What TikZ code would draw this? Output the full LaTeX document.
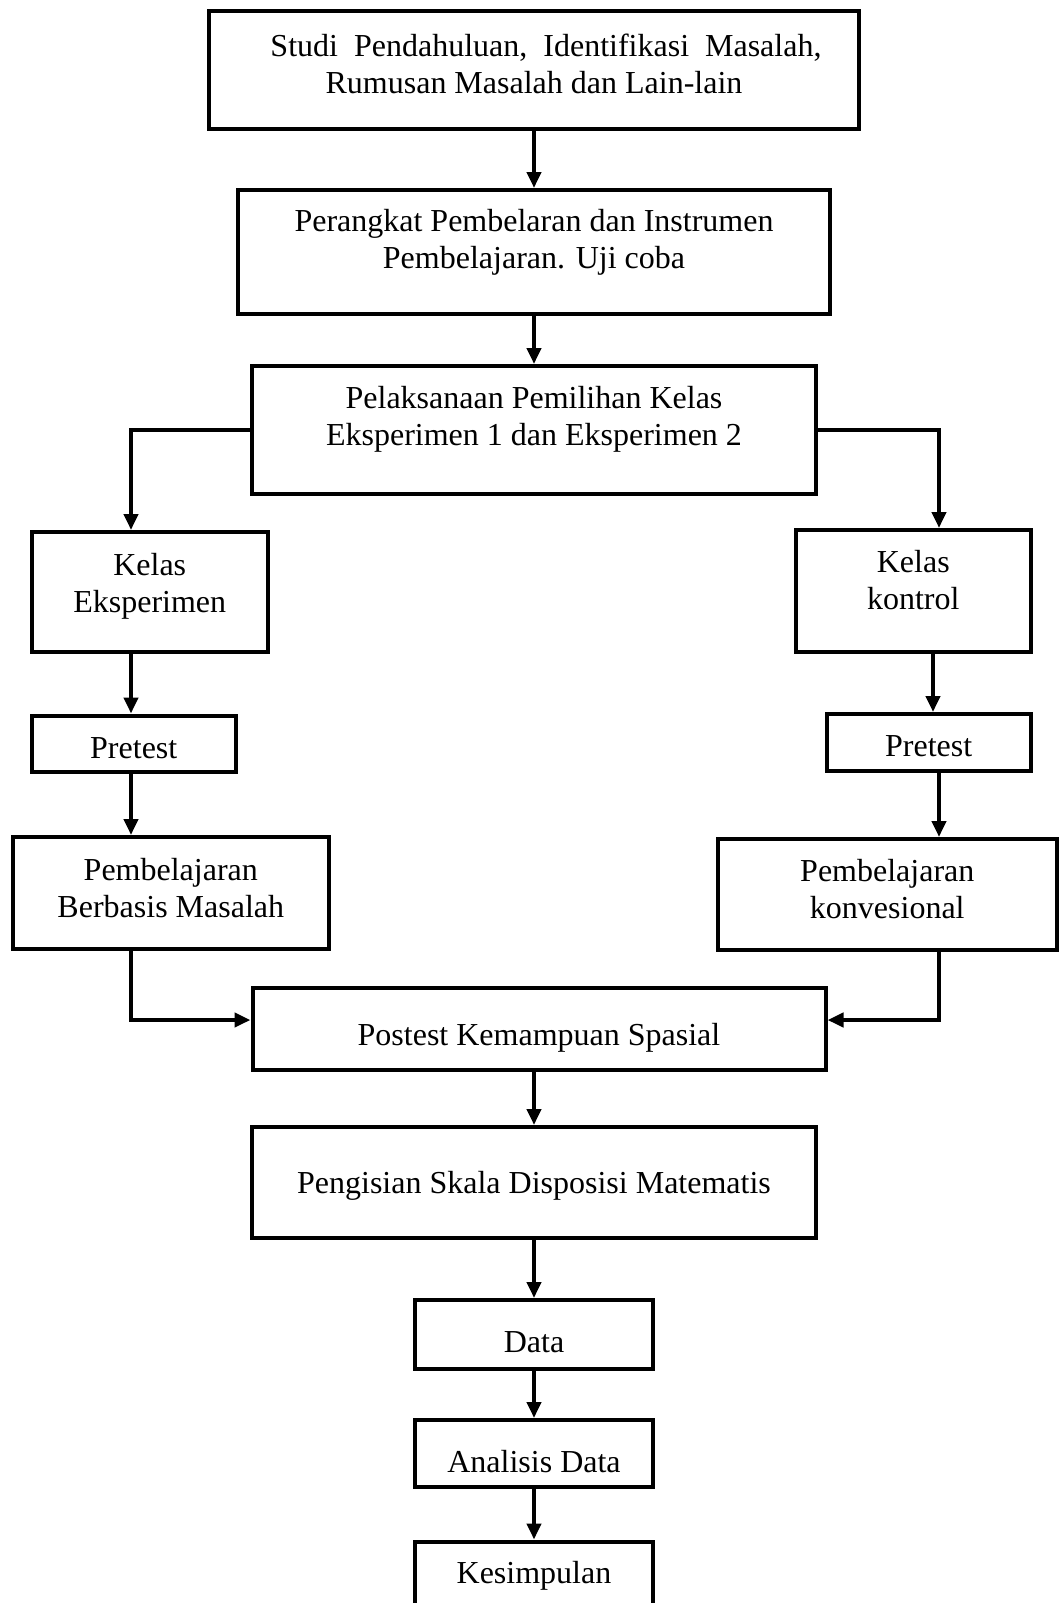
\documentclass[tikz,border=0pt]{standalone}
\usepackage{fontspec}
\setmainfont{Liberation Serif}
\usepackage{tikz}
\usetikzlibrary{arrows.meta}
\usetikzlibrary{positioning}

\tikzset{
  box/.style={draw, line width=2pt, inner sep=0pt, align=center,
    font=\fontsize{16}{18.5}\selectfont},
  arr/.style={line width=2.1pt, -{Triangle[length=8pt,width=7pt]}},
  tup/.style={text depth=#1},
  tdown/.style={text height=#1}
}

\begin{document}
\begin{tikzpicture}[x=0.5pt, y=-0.5pt]
    \useasboundingbox (0, 0) rectangle (1059, 1603);

    \node [box, tup=6pt, minimum width=325pt, minimum height=58.75pt] (studi) at (534, 69.75) {\hspace*{12pt}Studi\hspace{8pt}Pendahuluan,\hspace{8pt}Identifikasi\hspace{8pt}Masalah,\\Rumusan Masalah dan Lain-lain};
    \node [box, tup=13.5pt, minimum width=296pt, minimum height=62pt] (perangkat) at (534, 252) {Perangkat Pembelaran dan Instrumen\\Pembelajaran. Uji coba};
    \node [box, tup=14.5pt, minimum width=282pt, minimum height=64pt] (pelaksanaan) at (534, 430) {Pelaksanaan Pemilihan Kelas\\Eksperimen 1 dan Eksperimen 2};

    \node [box, tup=8.5pt, minimum width=118.25pt, minimum height=59.75pt] (kelasE) at (149.75, 591.75) {Kelas\\Eksperimen};
    \node [box, tup=11pt, minimum width=117.65pt, minimum height=60.75pt] (kelasK) at (913.3, 590.75) {Kelas\\kontrol};
    \node [box, tdown=14.6pt, minimum width=102.25pt, minimum height=28.25pt] (preE) at (133.75, 743.75) {Pretest};
    \node [box, tdown=14.6pt, minimum width=102pt, minimum height=28.5pt] (preK) at (928.7, 742.5) {Pretest};
    \node [box, tup=5pt, minimum width=158.15pt, minimum height=56pt] (pbm) at (170.8, 893) {Pembelajaran\\Berbasis Masalah};
    \node [box, tup=6pt, minimum width=169.65pt, minimum height=55.5pt] (konv) at (887.3, 894.5) {Pembelajaran\\konvesional};

    \node [box, tdown=20pt, minimum width=286.5pt, minimum height=41.15pt] (postest) at (539, 1028.85) {Postest Kemampuan Spasial};
    \node [box, tdown=14pt, minimum width=282pt, minimum height=55.5pt] (skala) at (534, 1182.5) {Pengisian Skala Disposisi Matematis};
    \node [box, tdown=17.8pt, minimum width=119pt, minimum height=34.5pt] (data) at (534, 1334.5) {Data};
    \node [box, tdown=19pt, minimum width=118.65pt, minimum height=33.5pt] (analisis) at (534, 1453.5) {Analisis Data};
    \node [box, minimum width=118.65pt, minimum height=34.25pt] (kesimpulan) at (534, 1575.75) {Kesimpulan};

    % columns of the side branches
    \coordinate (lx) at (131, 0);
    \coordinate (rx) at (939, 0);
    \coordinate (rk) at (933, 0);
    \coordinate (jy) at (0, 1020);

    \draw [arr] (studi) -- (perangkat);
    \draw [arr] (perangkat) -- (pelaksanaan);
    \draw [arr] (pelaksanaan.west) -| (lx |- kelasE.north);
    \draw [arr] (pelaksanaan.east) -| (rx |- kelasK.north);

    \draw [arr] (lx |- kelasE.south) -- (lx |- preE.north);
    \draw [arr] (lx |- preE.south) -- (lx |- pbm.north);
    \draw [arr] (rk |- kelasK.south) -- (rk |- preK.north);
    \draw [arr] (rx |- preK.south) -- (rx |- konv.north);

    \draw [arr] (lx |- pbm.south) |- (postest.west |- jy);
    \draw [arr] (rx |- konv.south) |- (postest.east |- jy);

    \draw [arr] (skala.north |- postest.south) -- (skala.north);
    \draw [arr] (skala) -- (data);
    \draw [arr] (data) -- (analisis);
    \draw [arr] (analisis) -- (kesimpulan);
  \end{tikzpicture}
\end{document}
